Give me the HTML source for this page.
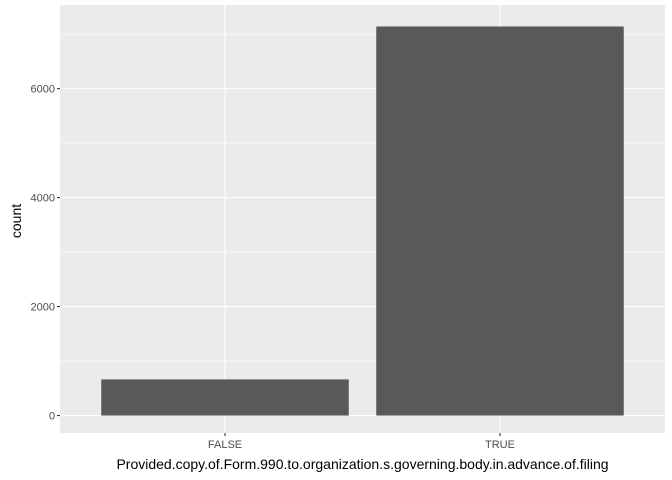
<!DOCTYPE html>
<html><head><meta charset="utf-8"><style>
body{margin:0;background:#fff;}
svg{display:block;font-family:"Liberation Sans",Arial,sans-serif;}
</style></head><body>
<svg id="c" width="672" height="480"></svg>
<script>
const categories=["FALSE","TRUE"];
const counts=[663,7141];
const yTicks=[0,2000,4000,6000];
const yMinor=[1000,3000,5000,7000];
const svg=document.getElementById('c');
const NS="http://www.w3.org/2000/svg";
const pL=60,pR=665,pT=7,pB=435;
const maxV=Math.max(...counts);
const y0=-maxV*0.05,y1=maxV*1.05;
const y=v=>pB-(v-y0)/(y1-y0)*(pB-pT);
const n=categories.length;
const step=(pR-pL)/(n-1+1.2);
const x=i=>pL+step*(0.6+i);
function el(t,a,p){const e=document.createElementNS(NS,t);for(const k in a)e.setAttribute(k,a[k]);(p||svg).appendChild(e);return e;}
const panel=el('rect',{x:pL,y:pT-2,width:pR-pL,height:pB-pT,fill:'#ebebeb'});


yMinor.forEach(v=>{if(y(v)>pT){const l=el('line',{x1:pL,x2:pR,y1:y(v),y2:y(v),stroke:'#fff','stroke-width':0.55});

}});
yTicks.forEach(v=>{const l=el('line',{x1:pL,x2:pR,y1:y(v),y2:y(v),stroke:'#fff','stroke-width':1.1});


const t=el('text',{x:pL-5,y:y(v)+4,'text-anchor':'end','font-size':11,fill:'#4d4d4d'});t.textContent=v;


el('line',{x1:pL-3,x2:pL,y1:y(v),y2:y(v),stroke:'#333','stroke-width':1.1});});
categories.forEach((c,i)=>{const l=el('line',{x1:x(i),x2:x(i),y1:pT-2,y2:pB-2,stroke:'#fff','stroke-width':1.1});

});
categories.forEach((c,i)=>{const w=step*0.9;
const r=el('rect',{x:x(i)-w/2,y:y(counts[i]),width:w,height:y(0)-y(counts[i]),fill:'#595959'});


el('line',{x1:x(i),x2:x(i),y1:pB-2,y2:pB+1,stroke:'#333','stroke-width':1.1});
const t=el('text',{x:x(i),y:pB+13,'text-anchor':'middle','font-size':11,fill:'#4d4d4d'});t.textContent=c;

});
const xt=el('text',{x:(pL+pR)/2,y:469,'text-anchor':'middle','font-size':14,fill:'#000'});
xt.textContent='Provided.copy.of.Form.990.to.organization.s.governing.body.in.advance.of.filing';


const yt=el('text',{x:0,y:0,'text-anchor':'middle','font-size':14,fill:'#000',transform:`translate(21,${(pT+pB)/2}) rotate(-90)`});
yt.textContent='count';


</script>
</body></html>
